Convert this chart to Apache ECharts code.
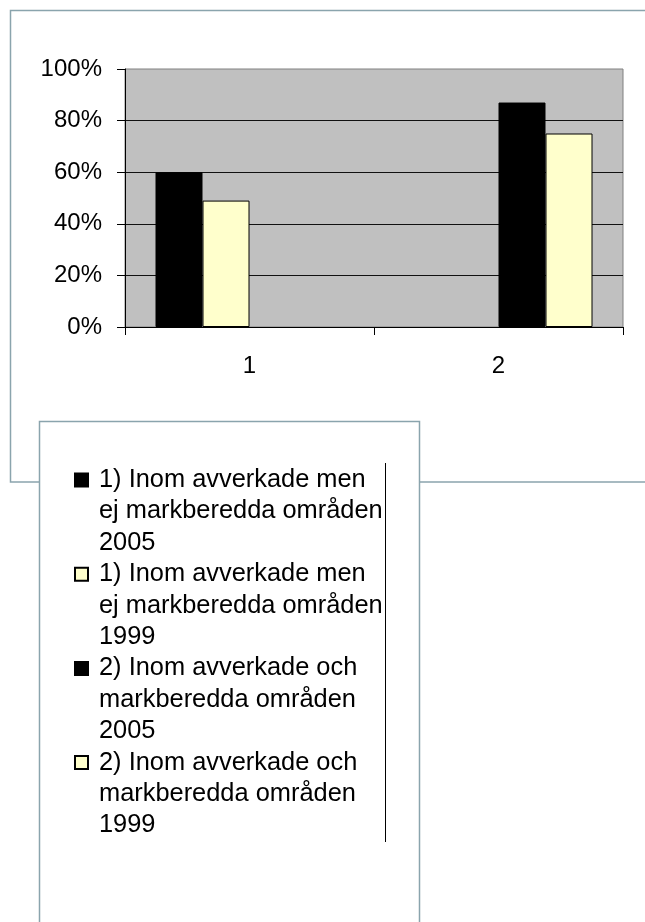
<!DOCTYPE html>
<html>
<head>
<meta charset="utf-8">
<script src="https://cdn.jsdelivr.net/npm/echarts@6/dist/echarts.min.js"></script>
<style>
  html, body { margin: 0; padding: 0; background: #fff; }
  #chart { width: 645px; height: 922px; }
</style>
</head>
<body>
<div id="chart"></div>
<script>
// categories on the x axis
const categories = ['1', '2'];
// y axis ticks (percent)
const yTicks = [0, 20, 40, 60, 80, 100];

// series names, one line per entry as in the legend
const nameLines = [
  ['1) Inom avverkade men', 'ej markberedda områden', '2005'],
  ['1) Inom avverkade men', 'ej markberedda områden', '1999'],
  ['2) Inom avverkade och', 'markberedda områden', '2005'],
  ['2) Inom avverkade och', 'markberedda områden', '1999']
];
// values per series (percent), null where the series has no bar
const values1_2005 = [60, null];
const values1_1999 = [49, null];
const values2_2005 = [null, 87];
const values2_1999 = [null, 75];
const seriesValues = [values1_2005, values1_1999, values2_2005, values2_1999];
const seriesColors = ['#000000', '#ffffcc', '#000000', '#ffffcc'];

const font = '"Liberation Sans", Arial, sans-serif';
const frameColor = '#8aa4ad';
const legendLine = 31.4;

const chart = echarts.init(document.getElementById('chart'));

const series = seriesValues.map((vals, i) => ({
  name: nameLines[i].join('\n'),
  type: 'bar',
  data: vals,
  barWidth: 47,
  barGap: '0%',
  itemStyle: { color: seriesColors[i], borderColor: '#000', borderWidth: 1 },
  emphasis: { disabled: true },
  animation: false
}));

const option = {
  animation: false,
  grid: {
    left: 125,
    top: 69,
    width: 498,
    height: 258,
    show: true,
    backgroundColor: '#c0c0c0',
    borderColor: '#808080',
    borderWidth: 1
  },
  xAxis: {
    type: 'category',
    data: categories,
    axisLine: { lineStyle: { color: '#000', width: 1 } },
    axisTick: { show: true, length: 8, alignWithLabel: false, lineStyle: { color: '#000' } },
    axisLabel: { color: '#000', fontSize: 24, fontFamily: font, margin: 27 },
    splitLine: { show: false }
  },
  yAxis: {
    type: 'value',
    min: yTicks[0],
    max: yTicks[yTicks.length - 1],
    interval: yTicks[1] - yTicks[0],
    axisLine: { show: true, lineStyle: { color: '#000', width: 1 } },
    axisTick: { show: true, length: 8, lineStyle: { color: '#000' } },
    axisLabel: { color: '#000', fontSize: 24, fontFamily: font, margin: 23, formatter: '{value}%' },
    splitLine: { show: true, showMaxLine: false, lineStyle: { color: '#111', width: 1 } }
  },
  legend: {
    orient: 'vertical',
    left: 74,
    // icon is centred on the text block, so two blank lines on top put it on the first line
    top: 480 - legendLine * 2.5,
    height: 460,
    padding: 0,
    itemGap: -legendLine * 2,
    itemWidth: 13,
    itemHeight: 13,
    icon: 'rect',
    selectedMode: false,
    formatter: name => '\n\n' + name,
    textStyle: {
      color: '#000',
      fontSize: 25.4,
      fontFamily: font,
      lineHeight: legendLine,
      padding: [0, 0, 0, 6]
    },
    data: series.map(s => s.name)
  },
  graphic: [
    {
      type: 'rect',
      z: 1,
      shape: { x: 10.5, y: 10.5, width: 700, height: 471.5 },
      style: { fill: 'none', stroke: frameColor, lineWidth: 1.5 }
    },
    {
      type: 'rect',
      z: 2,
      shape: { x: 39.5, y: 421.5, width: 380, height: 600 },
      style: { fill: '#fff', stroke: frameColor, lineWidth: 1.5 }
    },
    {
      type: 'line',
      z: 3,
      shape: { x1: 385.5, y1: 463, x2: 385.5, y2: 842 },
      style: { stroke: '#000', lineWidth: 1 }
    }
  ],
  series: series
};

chart.setOption(option);
</script>
</body>
</html>
